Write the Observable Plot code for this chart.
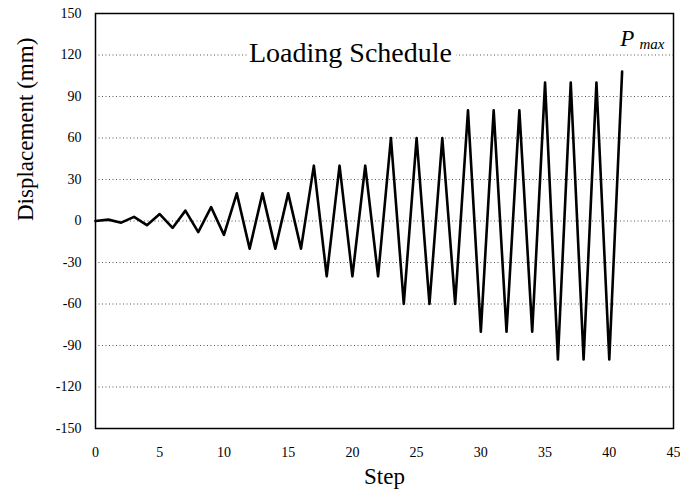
<!DOCTYPE html>
<html>
<head>
<meta charset="utf-8">
<script src="https://cdn.jsdelivr.net/npm/d3@7"></script>
<script src="https://cdn.jsdelivr.net/npm/@observablehq/plot@0.6"></script>
<style>
  html, body { margin: 0; padding: 0; background: white; }
  #chart { width: 680px; height: 499px; }
  #chart svg text { font-family: "Liberation Serif", "Times New Roman", serif; }
</style>
</head>
<body>
<div id="chart"></div>
<script>
// Loading schedule: displacement (mm) at each step
const steps = d3.range(0, 42);
const displacement = [
  0, 1, -1.2, 3, -3, 5, -5, 7.5, -8, 10, -10,
  20, -20, 20, -20, 20, -20,
  40, -40, 40, -40, 40, -40,
  60, -60, 60, -60, 60, -60,
  80, -80, 80, -80, 80, -80,
  100, -100, 100, -100, 100, -100,
  108
];
const xTicks = [0, 5, 10, 15, 20, 25, 30, 35, 40, 45];
const yTicks = [-150, -120, -90, -60, -30, 0, 30, 60, 90, 120, 150];
const gridValues = [-120, -90, -60, -30, 0, 30, 60, 90, 120];
const titleText = "Loading Schedule";
const xLabel = "Step";
const yLabel = "Displacement (mm)";

const data = steps.map((s, i) => ({step: s, disp: displacement[i]}));
const serif = "Liberation Serif";

const chart = Plot.plot({
  width: 680,
  height: 499,
  marginLeft: 95,
  marginRight: 7,
  marginTop: 13,
  marginBottom: 71,
  style: "font-family: 'Liberation Serif', serif; font-size: 14px; color: black; background: white;",
  x: {domain: [0, 45]},
  y: {domain: [-150, 150]},
  marks: [
    Plot.ruleY(gridValues, {stroke: "#555", strokeWidth: 1, strokeDasharray: "1,2.5"}),
    Plot.text([titleText], {x: 19.85, y: 120, fontSize: 28, fontFamily: serif, lineAnchor: "middle", dy: -2,
      stroke: "white", strokeWidth: 10, fill: "black", paintOrder: "stroke"}),
    Plot.text(["P"], {x: 41.4, y: 120, fontSize: 23, fontFamily: serif, fontStyle: "italic", lineAnchor: "bottom", dy: -9}),
    Plot.text(["max"], {x: 42.35, y: 120, fontSize: 15, fontFamily: serif, fontStyle: "italic", textAnchor: "start", lineAnchor: "bottom", dy: -6}),
    Plot.line(data, {x: "step", y: "disp", stroke: "black", strokeWidth: 2.6, strokeLinejoin: "round", strokeLinecap: "round"}),
    Plot.frame({stroke: "black", strokeWidth: 1.5}),
    Plot.axisX(xTicks, {tickSize: 0, tickPadding: 19, fontSize: 14, fontFamily: serif, label: null, tickFormat: d => String(d)}),
    Plot.axisY(yTicks, {tickSize: 0, tickPadding: 14, fontSize: 14, fontFamily: serif, label: null, tickFormat: d => String(d)}),
    Plot.text([xLabel], {frameAnchor: "bottom", dy: 55, fontSize: 23, fontFamily: serif}),
    Plot.text([yLabel], {frameAnchor: "left", dx: -70, rotate: -90, fontSize: 23, fontFamily: serif})
  ]
});
document.getElementById("chart").appendChild(chart);
</script>
</body>
</html>
